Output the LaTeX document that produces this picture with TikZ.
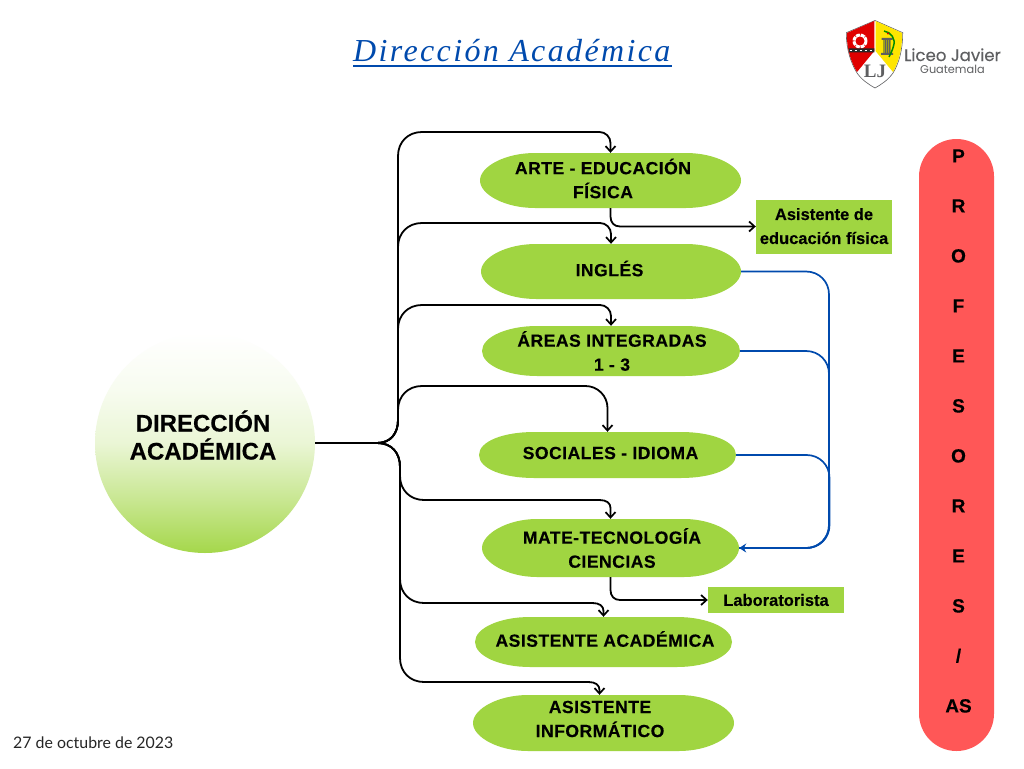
\documentclass[tikz,border=0pt]{standalone}
\usepackage{fontspec}
\setmainfont{Liberation Sans}[BoldFeatures={FakeBold=0.25}]
\newfontfamily\titlefont[LetterSpace=7.4]{Liberation Serif}
\newfontfamily\pillfont[LetterSpace=2.6,BoldFeatures={FakeBold=0.25}]{Liberation Sans}
\newfontfamily\datefont{Lato}
\newfontfamily\logofont[FakeBold=0.2]{Poppins}
\newfontfamily\guatefont{Poppins}
\newfontfamily\monofont{Liberation Serif}
\usetikzlibrary{arrows.meta,calc}
\definecolor{leaf}{HTML}{A0D541}
\definecolor{coral}{HTML}{FF5757}
\definecolor{royal}{HTML}{004AAD}
\definecolor{logogrey}{HTML}{5E5F61}
\pgfdeclareverticalshading{dirshade}{100bp}{color(0bp)=(leaf); color(25bp)=(leaf!95!white); color(37bp)=(leaf!58!white); color(50bp)=(leaf!22!white); color(62bp)=(leaf!8!white); color(75bp)=(white); color(100bp)=(white)}
\tikzset{
 conn/.style={draw=black,line width=1.8pt,-{Straight Barb[length=5.5pt,width=10pt,line width=1.7pt]}},
 trunk/.style={draw=black,line width=2.6pt},
 blueconn/.style={draw=royal,line width=1.7pt},
 pilltext/.style={font=\pillfont\bfseries\fontsize{17.6}{24}\selectfont,align=center,inner sep=0pt,text=black},
 greenbox/.style={fill=leaf,inner sep=0pt,align=center,font=\bfseries\fontsize{16.5}{24}\selectfont},
 pillbody/.style={fill=leaf}
}
% \pill{name}{left}{top}{right}{bottom}{text}{text dx}{text dy}
\newcommand\pill[8]{%
 \fill[pillbody] (#2+55,#3) -- (#4-55,#3) .. controls (#4-25,#3) and (#4,#3/2+#5/2-14) .. (#4,#3/2+#5/2)
  .. controls (#4,#3/2+#5/2+14) and (#4-25,#5) .. (#4-55,#5) -- (#2+55,#5)
  .. controls (#2+25,#5) and (#2,#3/2+#5/2+14) .. (#2,#3/2+#5/2)
  .. controls (#2,#3/2+#5/2-14) and (#2+25,#3) .. (#2+55,#3) -- cycle;
 \node[minimum width=#4pt-#2pt,minimum height=#5pt-#3pt,inner sep=0pt] (#1) at (#2/2+#4/2,#3/2+#5/2) {};
 \node[pilltext] (#1text) at (#2/2+#4/2+#7,#3/2+#5/2+#8) {#6};
}
% branches from the trunk: \upbranch{y}{x}{target}{right radius}
\newcommand\upbranch[4]{%
 \draw[conn] (dir.east) -- (junc) .. controls (391,443) and (398,433) .. (398,420)
  -- (398,#1+24) .. controls (398,#1+10) and (408,#1) .. (422,#1) -- (#2-#4,#1) .. controls (#2-#4*0.45,#1) and (#2,#1+#4*0.45) .. (#2,#1+#4) -- (#3);
}
\newcommand\downbranch[3]{%
 \draw[conn] (dir.east) -- (junc) .. controls (392,443) and (400,453) .. (400,467)
  -- (400,#1-24) .. controls (400,#1-10) and (410,#1) .. (424,#1) -- (#2-11,#1) .. controls (#2-4,#1) and (#2,#1+3) .. (#2,#1+8) -- (#3);
}
\newcommand\bluelink[3]{%
 \draw[blueconn] (#1) -- (#2-23,#3) .. controls (#2-10,#3) and (#2,#3+10) .. (#2,#3+23)
  -- (#2,525) .. controls (#2,538) and (#2-10,548) .. (#2-23,548) -- (mate.east);
}
\begin{document}
\begin{tikzpicture}[x=1pt,y=-1pt]
\useasboundingbox (0,0) rectangle (1024,768);
\fill[white] (0,0) rectangle (1024,768);

% title
\node[inner sep=0pt,text=royal,font=\titlefont\itshape\fontsize{32}{36}\selectfont,anchor=base west] (title) at (353,62) {Dirección Académica};
\draw[royal,line width=1.3pt] (353,66) -- (672,66);

% logo
\fill[white,draw=logogrey,line width=0.6pt] (875,20.5) -- (902.7,32.7) .. controls (902.7,50) and (899,63) .. (893,73) .. controls (888,80) and (882,84) .. (875,88) .. controls (868,84) and (862,80) .. (857,73) .. controls (851,63) and (846.3,50) .. (846.3,32.7) -- cycle;
\fill[red!88!black] (874.3,21) -- (874.3,51) -- (857,72) .. controls (851,62) and (846.8,50) .. (846.8,33) -- cycle;
\fill[yellow!88!orange] (875.5,21) -- (902.2,33) .. controls (902.2,50) and (898.5,62) .. (893,72) -- (875.5,51) -- cycle;
\draw[white,line width=3pt,dash pattern=on 4pt off 0.8pt] (860,41) circle[radius=6];
\fill[black!85] (848.5,48.5) -- (874.3,48.5) -- (874.3,52.5) -- (849.3,52.5) -- cycle;
\draw[white,line width=1.6pt,dash pattern=on 2.5pt off 2.5pt] (849.5,50.5) -- (874,50.5);
\fill[logogrey!35!yellow!80!black] (883,40) rectangle (891,53);
\draw[logogrey,line width=0.7pt] (885,40) -- (885,53) (887,40) -- (887,53) (889,40) -- (889,53);
\fill[logogrey] (881.5,38) rectangle (892.5,40) (881,53) rectangle (893,55);
\draw[green!55!black,line width=1.5pt] (884,31) .. controls (891,32) and (896,39) .. (893.5,46) .. controls (892.5,50) and (891,53) .. (889,57);
\fill[red!85!black] (888,33.5) circle[radius=1.2];
\node[text=logogrey,font=\monofont\bfseries\fontsize{19}{19}\selectfont,inner sep=0pt] (lj) at (875,71) {LJ};
\node[text=logogrey,font=\logofont\fontsize{16.6}{18}\selectfont,inner sep=0pt,anchor=base west] (liceo) at (904,61) {Liceo Javier};
\node[text=logogrey,font=\guatefont\fontsize{11.3}{12}\selectfont,inner sep=0pt,anchor=base west] (guate) at (920,74) {Guatemala};

% root
\node[circle,minimum size=220pt,inner sep=0pt,shading=dirshade] (dir) at (205,443) {};
\node[inner sep=0pt,align=center,font=\bfseries\fontsize{24}{28}\selectfont] (dirtext) at (203,435) {DIRECCIÓN\\ACADÉMICA};
\coordinate (junc) at (377,443);

% pills
\pill{arte}{480}{153}{741}{208}{ARTE - EDUCACIÓN\\FÍSICA}{-7.5}{-2}
\pill{ingles}{481}{244}{741}{299}{INGLÉS}{-1.5}{-3}
\pill{areas}{482}{326}{740}{376}{ÁREAS INTEGRADAS\\1 - 3}{1}{0}
\pill{soc}{479}{432}{736}{478}{SOCIALES - IDIOMA}{3}{-2}
\pill{mate}{482}{519}{739}{577}{MATE-TECNOLOGÍA\\CIENCIAS}{1.5}{0}
\pill{acad}{475}{617}{732}{667}{ASISTENTE ACADÉMICA}{1.5}{-3}
\pill{inf}{473}{695}{734}{751}{ASISTENTE\\INFORMÁTICO}{-3.5}{-4}

% boxes
\node[greenbox,minimum width=136pt,minimum height=54pt] (asis) at (824,226.5) {\raisebox{1pt}{Asistente de}\\\raisebox{1pt}{educación física}};
\node[greenbox,minimum width=136pt,minimum height=26pt] (lab) at (776,600) {\raisebox{-2pt}{Laboratorista}};

% black connectors
\upbranch{132}{610.5}{arte.north}{11}
\upbranch{223}{611}{ingles.north}{11}
\upbranch{305}{611}{areas.north}{11}
\upbranch{386}{607.5}{soc.north}{22}
\downbranch{500}{610.5}{mate.north}
\downbranch{603}{603.5}{acad.north}
\downbranch{682}{599.5}{[xshift=-4pt]inf.north}
\draw[trunk] (dir.east) -- (junc);
\draw[conn] (arte.south) -- (610.5,216.5) .. controls (610.5,222.5) and (614,226.5) .. (620,226.5) -- (asis.west);
\draw[conn] (mate.south) -- (610.5,590) .. controls (610.5,596) and (614,600) .. (620,600) -- (lab.west);

% blue connectors
\bluelink{ingles.east}{829}{271.5}
\bluelink{areas.east}{829}{351}
\bluelink{soc.east}{829.5}{455}
\draw[royal,line width=2.2pt,-{Stealth[length=7pt,width=9pt]}] (790,548) -- (mate.east);

% teachers column
\node[fill=coral,rounded corners=37.5pt,minimum width=75pt,minimum height=612pt,inner sep=0pt] (prof) at (956.5,445) {};
\node[inner sep=0pt,align=center,font=\bfseries\fontsize{19}{50}\selectfont] (proftext) at (958.5,431) {P\\R\\O\\F\\E\\S\\O\\R\\E\\S\\/\\AS};

% date
\node[inner sep=0pt,anchor=base west,font=\datefont\fontsize{15.9}{18}\selectfont,text=black!85] (date) at (13,748) {27 de octubre de 2023};
\end{tikzpicture}
\end{document}
